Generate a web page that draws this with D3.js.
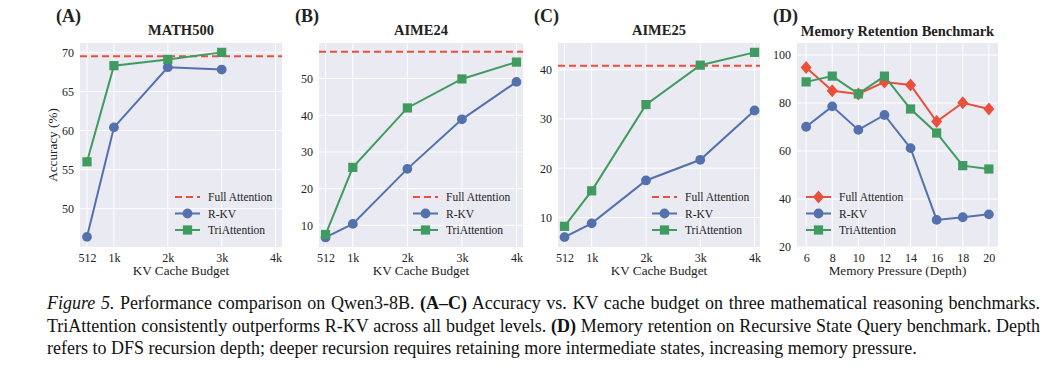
<!DOCTYPE html>
<html>
<head>
<meta charset="utf-8">
<script src="https://cdn.jsdelivr.net/npm/d3@7"></script>
<style>
    body { margin: 0; background: #fff; }
    svg text { font-family: "Liberation Serif", "Times New Roman", Times, "DejaVu Serif", serif; fill: #222; }
    .caption { position: absolute; left: 47px; top: 292px; width: 993px;
        font-family: "Liberation Serif", "Times New Roman", Times, "DejaVu Serif", serif;
        font-size: 18px; line-height: 22.5px; color: #111; }
    .caption .j { text-align: justify; text-align-last: justify; white-space: nowrap; }
</style>
</head>
<body>
<svg id="chart" width="1049" height="290"></svg>
<div class="caption">
<div class="j"><i>Figure 5.</i> Performance comparison on Qwen3-8B. <b>(A–C)</b> Accuracy vs. KV cache budget on three mathematical reasoning benchmarks.</div>
<div class="j">TriAttention consistently outperforms R-KV across all budget levels. <b>(D)</b> Memory retention on Recursive State Query benchmark. Depth</div>
<div>refers to DFS recursion depth; deeper recursion requires retaining more intermediate states, increasing memory pressure.</div>
</div>
<script>

// KV cache budgets in thousands of tokens
var budgets = [0.5, 1, 2, 3, 4];
var budgetLabels = ['512', '1k', '2k', '3k', '4k'];

var math500RKV = [46.4, 60.4, 68.1, 67.8];
var math500Tri = [56.0, 68.3, 69.1, 70.0];
var math500Full = 69.5;

var aime24RKV = [6.7, 10.4, 25.4, 38.9, 49.1];
var aime24Tri = [7.5, 25.8, 42.0, 49.9, 54.5];
var aime24Full = 57.3;

var aime25RKV = [6.0, 8.8, 17.5, 21.7, 31.7];
var aime25Tri = [8.2, 15.4, 32.9, 40.9, 43.5];
var aime25Full = 40.8;

var depths = [6, 8, 10, 12, 14, 16, 18, 20];
var memFull = [94.8, 85.1, 83.8, 88.7, 87.5, 72.3, 80.1, 77.5];
var memRKV = [70.1, 78.6, 68.8, 75.0, 61.2, 31.3, 32.4, 33.6];
var memTri = [88.8, 91.2, 83.8, 91.2, 77.5, 67.5, 53.9, 52.5];

var colors = { full: '#e8503c', rkv: '#5470ad', tri: '#3f9b5f' };
var serif = '"Liberation Serif", "Times New Roman", Times, "DejaVu Serif", serif';

var svg = d3.select('#chart');

function series(xs, ys) {
    return ys.map((y, i) => ({ x: xs[i], y: y }));
}

function drawPanel(opt) {

    var m = opt.box;
    var x = d3.scaleLinear().domain(opt.xDomain).range([m.left, m.right]);
    var y = d3.scaleLinear().domain(opt.yDomain).range([m.bottom, m.top]);

    var g = svg.append('g');

    g.append('rect')
        .attr('x', m.left).attr('y', m.top)
        .attr('width', m.right - m.left).attr('height', m.bottom - m.top)
        .style('fill', '#eaeaf2');

    g.selectAll('line.vgrid')
        .data(opt.xTicks).enter()
        .append('line')
        .attr('x1', d => x(d)).attr('x2', d => x(d))
        .attr('y1', m.top).attr('y2', m.bottom)
        .style('stroke', '#fff').style('stroke-width', 1);

    g.selectAll('line.hgrid')
        .data(opt.yTicks).enter()
        .append('line')
        .attr('y1', d => y(d)).attr('y2', d => y(d))
        .attr('x1', m.left).attr('x2', m.right)
        .style('stroke', '#fff').style('stroke-width', 1);

    var xAxis = g.append('g')
        .attr('transform', 'translate(0,' + m.bottom + ')')
        .call(d3.axisBottom(x).tickValues(opt.xTicks).tickSize(0).tickPadding(6)
            .tickFormat((d, i) => opt.xLabels[i]));
    var yAxis = g.append('g')
        .attr('transform', 'translate(' + m.left + ',0)')
        .call(d3.axisLeft(y).tickValues(opt.yTicks).tickSize(0).tickPadding(6));
    [xAxis, yAxis].forEach(function(a) {
        a.attr('font-family', serif);
        a.select('.domain').remove();
        a.selectAll('text').style('font-size', '12px').style('font-family', serif);
    });

    g.append('text')
        .attr('x', (m.left + m.right) / 2).attr('y', 275)
        .attr('text-anchor', 'middle')
        .style('font-size', '13.2px')
        .text(opt.xTitle);

    if (opt.yTitle) {
        g.append('text')
            .attr('transform', 'translate(' + (m.left - 23) + ',' + (m.top + m.bottom) / 2 + ') rotate(-90)')
            .attr('text-anchor', 'middle')
            .style('font-size', '13.2px')
            .text(opt.yTitle);
    }

    g.append('text')
        .attr('x', (m.left + m.right) / 2).attr('y', opt.titleY)
        .attr('text-anchor', 'middle')
        .style('font-size', '14.5px').style('font-weight', 'bold')
        .text(opt.title);

    g.append('text')
        .attr('x', opt.tagX).attr('y', 22)
        .style('font-size', '18px').style('font-weight', 'bold')
        .text(opt.tag);

    var line = d3.line().x(d => x(d.x)).y(d => y(d.y));

    if (opt.fullLevel != null) {
        g.append('line')
            .attr('x1', m.left).attr('x2', m.right)
            .attr('y1', y(opt.fullLevel)).attr('y2', y(opt.fullLevel))
            .style('stroke', colors.full).style('stroke-width', 2)
            .style('stroke-dasharray', '7,4');
    }

    opt.lines.forEach(function(s) {
        var data = series(opt.xs, s.values);
        g.append('path')
            .datum(data)
            .attr('d', line)
            .style('fill', 'none')
            .style('stroke', colors[s.key])
            .style('stroke-width', 2);
        g.selectAll('path.m-' + s.key)
            .data(data).enter()
            .append('path')
            .attr('transform', d => 'translate(' + x(d.x) + ',' + y(d.y) + ')')
            .attr('d', markerPath(s.marker))
            .style('fill', colors[s.key]);
    });

    // legend
    var lg = g.append('g').attr('transform', 'translate(' + opt.legendX + ',0)');
    opt.legend.forEach(function(s, i) {
        var ly = 197 + i * 16.5;
        var row = lg.append('g');
        row.append('line')
            .attr('x1', 0).attr('x2', 25).attr('y1', ly).attr('y2', ly)
            .style('stroke', colors[s.key]).style('stroke-width', 2)
            .style('stroke-dasharray', s.dashed ? '7,4' : null);
        if (s.marker) {
            row.append('path')
                .attr('transform', 'translate(12.5,' + ly + ')')
                .attr('d', markerPath(s.marker))
                .style('fill', colors[s.key]);
        }
        row.append('text')
            .attr('x', 33).attr('y', ly + 4)
            .style('font-size', '11.5px')
            .text(s.label);
    });
}

function markerPath(kind) {
    if (kind == 'circle') {
        return d3.symbol().type(d3.symbolCircle).size(75)();
    } else if (kind == 'square') {
        return d3.symbol().type(d3.symbolSquare).size(85)();
    }
    return 'M0,-6.5L5.5,0L0,6.5L-5.5,0Z';
}

var kvLegend = [
    { key: 'full', label: 'Full Attention', dashed: true },
    { key: 'rkv', label: 'R-KV', marker: 'circle' },
    { key: 'tri', label: 'TriAttention', marker: 'square' }
];

drawPanel({
    box: { left: 80, right: 282, top: 43, bottom: 247 },
    xDomain: [0.37, 4.12], yDomain: [45.1, 71.2],
    xTicks: budgets, xLabels: budgetLabels, yTicks: [50, 55, 60, 65, 70],
    xs: budgets, fullLevel: math500Full,
    lines: [
        { key: 'rkv', values: math500RKV, marker: 'circle' },
        { key: 'tri', values: math500Tri, marker: 'square' }
    ],
    legend: kvLegend, legendX: 175,
    title: 'MATH500', titleY: 35, tag: '(A)', tagX: 56,
    xTitle: 'KV Cache Budget', yTitle: 'Accuracy (%)'
});

drawPanel({
    box: { left: 319, right: 523, top: 43, bottom: 247 },
    xDomain: [0.38, 4.12], yDomain: [4.1, 59.7],
    xTicks: budgets, xLabels: budgetLabels, yTicks: [10, 20, 30, 40, 50],
    xs: budgets, fullLevel: aime24Full,
    lines: [
        { key: 'rkv', values: aime24RKV, marker: 'circle' },
        { key: 'tri', values: aime24Tri, marker: 'square' }
    ],
    legend: kvLegend, legendX: 413,
    title: 'AIME24', titleY: 35, tag: '(B)', tagX: 295,
    xTitle: 'KV Cache Budget'
});

drawPanel({
    box: { left: 558, right: 760, top: 43, bottom: 247 },
    xDomain: [0.38, 4.1], yDomain: [4.0, 45.4],
    xTicks: budgets, xLabels: budgetLabels, yTicks: [10, 20, 30, 40],
    xs: budgets, fullLevel: aime25Full,
    lines: [
        { key: 'rkv', values: aime25RKV, marker: 'circle' },
        { key: 'tri', values: aime25Tri, marker: 'square' }
    ],
    legend: kvLegend, legendX: 652,
    title: 'AIME25', titleY: 35, tag: '(C)', tagX: 534,
    xTitle: 'KV Cache Budget'
});

drawPanel({
    box: { left: 797, right: 998, top: 43, bottom: 247 },
    xDomain: [5.3, 20.7], yDomain: [20, 105],
    xTicks: depths, xLabels: depths.map(String), yTicks: [20, 40, 60, 80, 100],
    xs: depths, fullLevel: null,
    lines: [
        { key: 'full', values: memFull, marker: 'diamond' },
        { key: 'rkv', values: memRKV, marker: 'circle' },
        { key: 'tri', values: memTri, marker: 'square' }
    ],
    legend: [
        { key: 'full', label: 'Full Attention', marker: 'diamond' },
        { key: 'rkv', label: 'R-KV', marker: 'circle' },
        { key: 'tri', label: 'TriAttention', marker: 'square' }
    ],
    legendX: 806,
    title: 'Memory Retention Benchmark', titleY: 36, tag: '(D)', tagX: 773,
    xTitle: 'Memory Pressure (Depth)'
});

</script>
</body>
</html>
